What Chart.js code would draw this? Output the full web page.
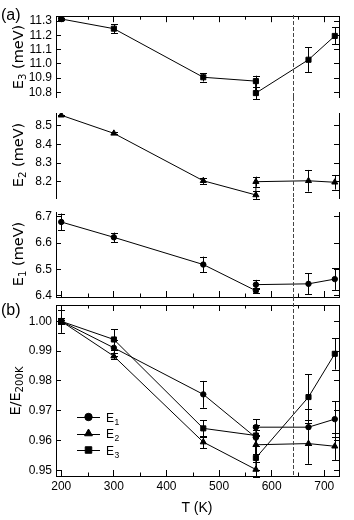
<!DOCTYPE html>
<html>
<head>
<meta charset="utf-8">
<script src="https://cdn.jsdelivr.net/npm/chart.js@4.4.0/dist/chart.umd.min.js"></script>
<style>
  body { margin: 0; background: #fff; }
  #wrap { position: relative; width: 354px; height: 520px; font-family: 'Liberation Sans', Arial, sans-serif; color: #000; }
  canvas { position: absolute; left: 0; top: 0; }
  .txt { position: absolute; white-space: nowrap; line-height: 1; }
  .ytitle { font-family: 'DejaVu Sans', sans-serif; font-size: 14.5px; transform: translate(-50%, -50%) rotate(-90deg); }
  .xtitle { font-size: 14px; transform: translate(-50%, -50%); }
  .panel { font-size: 16px; }
  sub { font-size: 70%; vertical-align: baseline; position: relative; top: 0.3em; }
</style>
</head>
<body>
<div id="wrap">
  <canvas id="cE3" width="354" height="520"></canvas>
  <canvas id="cE2" width="354" height="520"></canvas>
  <canvas id="cE1" width="354" height="520"></canvas>
  <canvas id="cRatio" width="354" height="520"></canvas>
  <div class="txt panel" style="left:1px;top:7px">(a)</div>
  <div class="txt panel" style="left:1px;top:302px">(b)</div>
  <div class="txt ytitle" style="left:18px;top:57px">E<sub>3</sub> (meV)</div>
  <div class="txt ytitle" style="left:18px;top:155px">E<sub>2</sub> (meV)</div>
  <div class="txt ytitle" style="left:18px;top:254px">E<sub>1</sub> (meV)</div>
  <div class="txt ytitle" style="left:15px;top:391px">E/E<sub>200K</sub></div>
  <div class="txt xtitle" style="left:197px;top:507px">T (K)</div>
</div>
<script>
// temperatures (K); 570 K appears twice (two measurements)
const temps = [200, 300, 470, 570, 570, 670, 720];

// panel (a): energies in meV and their error bars
const e3Values = [11.315, 11.247, 10.906, 10.879, 10.795, 11.029, 11.196];
const e3Errors = [0.006, 0.031, 0.03, 0.038, 0.044, 0.086, 0.06];
const e2Values = [8.556, 8.459, 8.205, 8.129, 8.200, 8.205, 8.197];
const e2Errors = [0.003, 0.005, 0.017, 0.021, 0.027, 0.058, 0.039];
const e1Values = [6.680, 6.622, 6.519, 6.420, 6.443, 6.446, 6.464];
const e1Errors = [0.032, 0.018, 0.03, 0.01, 0.018, 0.04, 0.041];

// panel (b): E / E(200 K)
const r1Values = [1.000, 0.9911, 0.9755, 0.9610, 0.9645, 0.9645, 0.9672];
const r1Errors = [0.0039, 0.0027, 0.0045, 0.0027, 0.0027, 0.006, 0.006];
const r2Values = [1.000, 0.9883, 0.9595, 0.9503, 0.9586, 0.9590, 0.9581];
const r2Errors = [0.0005, 0.001, 0.002, 0.0025, 0.003, 0.0068, 0.0046];
const r3Values = [1.000, 0.9939, 0.9641, 0.9617, 0.9542, 0.9746, 0.9891];
const r3Errors = [0.001, 0.0035, 0.0028, 0.0034, 0.0039, 0.0077, 0.0053];

const seriesNames = ['E1', 'E2', 'E3'];
const seriesStyles = ['circle', 'triangle', 'rect'];

// tick values
const xTicks = [200, 300, 400, 500, 600, 700];
const xMinorTicks = [250, 350, 450, 550, 650];
const e3Ticks = [10.8, 10.9, 11.0, 11.1, 11.2, 11.3];
const e2Ticks = [8.2, 8.3, 8.4, 8.5];
const e1Ticks = [6.4, 6.5, 6.6, 6.7];
const ratioTicks = [0.95, 0.96, 0.97, 0.98, 0.99, 1.00];

const transitionT = 640;

const tickFont = { family: "'Liberation Sans', Arial, sans-serif", size: 12 };
const pointSizes = { circle: 2.7, triangle: 3.5, rect: 3.6 };

const LEFT = 56, RIGHT = 339, LABEL_W = 40, LABEL_H = 22;

function points(values) {
  return values.map((v, i) => ({ x: temps[i], y: v }));
}

function series(values, errors, idx) {
  const style = seriesStyles[idx];
  return {
    label: seriesNames[idx],
    data: points(values),
    errors: errors,
    borderColor: '#000',
    borderWidth: 1,
    backgroundColor: '#000',
    pointStyle: style,
    pointRadius: pointSizes[style],
    pointBorderWidth: 1,
    pointBackgroundColor: '#000',
    pointBorderColor: '#000',
    tension: 0
  };
}

// error bars drawn from each dataset's errors array
const errorBars = {
  id: 'errorBars',
  beforeDatasetsDraw(chart) {
    const ctx = chart.ctx;
    const x = chart.scales.x, y = chart.scales.y;
    ctx.save();
    ctx.strokeStyle = '#000';
    ctx.lineWidth = 1;
    chart.data.datasets.forEach(ds => {
      (ds.errors || []).forEach((e, i) => {
        const p = ds.data[i];
        const px = Math.round(x.getPixelForValue(p.x)) + 0.5;
        const top = y.getPixelForValue(p.y + e);
        const bot = y.getPixelForValue(p.y - e);
        ctx.beginPath();
        ctx.moveTo(px, top); ctx.lineTo(px, bot);
        ctx.moveTo(px - 3.5, Math.round(top) + 0.5); ctx.lineTo(px + 3.5, Math.round(top) + 0.5);
        ctx.moveTo(px - 3.5, Math.round(bot) + 0.5); ctx.lineTo(px + 3.5, Math.round(bot) + 0.5);
        ctx.stroke();
      });
    });
    ctx.restore();
  }
};

// short inward minor ticks on every visible x axis
const minorTicks = {
  id: 'minorTicks',
  afterDraw(chart) {
    const ctx = chart.ctx, area = chart.chartArea;
    Object.values(chart.scales).forEach(s => {
      if (s.axis !== 'x' || !s.options.display) return;
      const edge = s.position === 'top' ? area.top : area.bottom;
      const dir = s.position === 'top' ? 1 : -1;
      ctx.save();
      ctx.strokeStyle = '#000';
      ctx.lineWidth = 1;
      ctx.beginPath();
      xMinorTicks.forEach(v => {
        const px = Math.round(s.getPixelForValue(v)) + 0.5;
        ctx.moveTo(px, edge);
        ctx.lineTo(px, edge + dir * 3.5);
      });
      ctx.stroke();
      ctx.restore();
    });
  }
};

// dashed line at the transition temperature, through both panels
const transitionLine = {
  id: 'transitionLine',
  afterDatasetsDraw(chart, args, opts) {
    const ctx = chart.ctx;
    const px = Math.round(chart.scales.x.getPixelForValue(transitionT)) + 0.5;
    ctx.save();
    ctx.strokeStyle = '#444';
    ctx.lineWidth = 1;
    ctx.setLineDash([4, 2]);
    ctx.beginPath();
    ctx.moveTo(px, opts.from);
    ctx.lineTo(px, chart.chartArea.bottom);
    ctx.stroke();
    ctx.restore();
  }
};

// legend inside panel (b)
const insideLegend = {
  id: 'insideLegend',
  afterDraw(chart, args, opts) {
    if (!opts.show) return;
    const ctx = chart.ctx, area = chart.chartArea;
    ctx.save();
    ctx.strokeStyle = '#000';
    ctx.fillStyle = '#000';
    ctx.lineWidth = 1;
    chart.data.datasets.forEach((ds, i) => {
      const y = area.top + opts.firstRow + i * opts.rowGap;
      const x0 = area.left + opts.left;
      ctx.beginPath();
      ctx.moveTo(x0, Math.round(y) + 0.5);
      ctx.lineTo(x0 + 23, Math.round(y) + 0.5);
      ctx.stroke();
      Chart.helpers.drawPoint(ctx, { pointStyle: ds.pointStyle, radius: ds.pointRadius + 1, borderWidth: 1 }, x0 + 11.5, y);
      const name = ds.label;
      ctx.font = "12px 'Liberation Sans', Arial, sans-serif";
      ctx.textBaseline = 'alphabetic';
      ctx.fillText(name[0], x0 + 29, y + 4.5);
      const w = ctx.measureText(name[0]).width;
      ctx.font = "8.5px 'Liberation Sans', Arial, sans-serif";
      ctx.fillText(name.slice(1), x0 + 29 + w + 0.5, y + 7.5);
    });
    ctx.restore();
  }
};

function xAxis(position, showLabels) {
  return {
    type: 'linear',
    min: 190,
    max: 728,
    position: position,
    display: position !== 'none',
    afterBuildTicks: s => { s.ticks = xTicks.map(v => ({ value: v })); },
    ticks: { display: showLabels, padding: 9, font: tickFont, color: '#000', maxRotation: 0, autoSkip: false, callback: v => String(v) },
    grid: { drawOnChartArea: false, tickLength: -6, color: '#000' },
    border: { color: '#000', width: 1 },
    afterFit: s => { s.height = showLabels ? LABEL_H : 0; }
  };
}

function yAxis(position, min, max, tickValues, decimals, showLabels) {
  return {
    type: 'linear',
    min: min,
    max: max,
    position: position,
    afterBuildTicks: s => { s.ticks = tickValues.map(v => ({ value: v })); },
    ticks: { display: showLabels, padding: 9, font: tickFont, color: '#000', autoSkip: false, callback: v => v.toFixed(decimals) },
    grid: { drawOnChartArea: false, tickLength: -5, color: '#000' },
    border: { color: '#000', width: 1 },
    afterFit: s => { s.width = showLabels ? LABEL_W : 0; }
  };
}

function makePanel(id, p) {
  const scales = { x: xAxis(p.xPos, p.xLabels), y: yAxis('left', p.min, p.max, p.ticks, p.decimals, true), y2: yAxis('right', p.min, p.max, p.ticks, p.decimals, false) };
  if (p.xTopToo) {
    scales.x2 = xAxis('top', false);
  }
  const bottomPad = 520 - p.bottom - (p.xLabels ? LABEL_H : 0);
  return new Chart(document.getElementById(id), {
    type: 'line',
    data: { datasets: p.datasets },
    options: {
      responsive: false,
      animation: false,
      events: [],
      layout: { padding: { left: LEFT - LABEL_W, right: 354 - RIGHT, top: p.top, bottom: bottomPad } },
      plugins: {
        legend: { display: false },
        tooltip: { enabled: false },
        transitionLine: { from: p.lineFrom },
        insideLegend: { show: !!p.legend, left: 21, firstRow: 112, rowGap: 16.5 }
      },
      scales: scales
    },
    plugins: [errorBars, minorTicks, transitionLine, insideLegend]
  });
}

makePanel('cE3', { top: 15, bottom: 97, lineFrom: 15, xPos: 'top', xLabels: false, min: 10.7675, max: 11.3346, ticks: e3Ticks, decimals: 1,
  datasets: [series(e3Values, e3Errors, 2)] });
makePanel('cE2', { top: 113, bottom: 198, lineFrom: 97, xPos: 'none', xLabels: false, min: 8.1127, max: 8.568, ticks: e2Ticks, decimals: 1,
  datasets: [series(e2Values, e2Errors, 1)] });
makePanel('cE1', { top: 212, bottom: 297, lineFrom: 198, xPos: 'bottom', xLabels: false, min: 6.3962, max: 6.7178, ticks: e1Ticks, decimals: 1,
  datasets: [series(e1Values, e1Errors, 0)] });
makePanel('cRatio', { top: 305, bottom: 476, lineFrom: 297, xPos: 'bottom', xLabels: true, xTopToo: true, min: 0.94813, max: 1.00546, ticks: ratioTicks, decimals: 2, legend: true,
  datasets: [series(r1Values, r1Errors, 0), series(r2Values, r2Errors, 1), series(r3Values, r3Errors, 2)] });
</script>
</body>
</html>
